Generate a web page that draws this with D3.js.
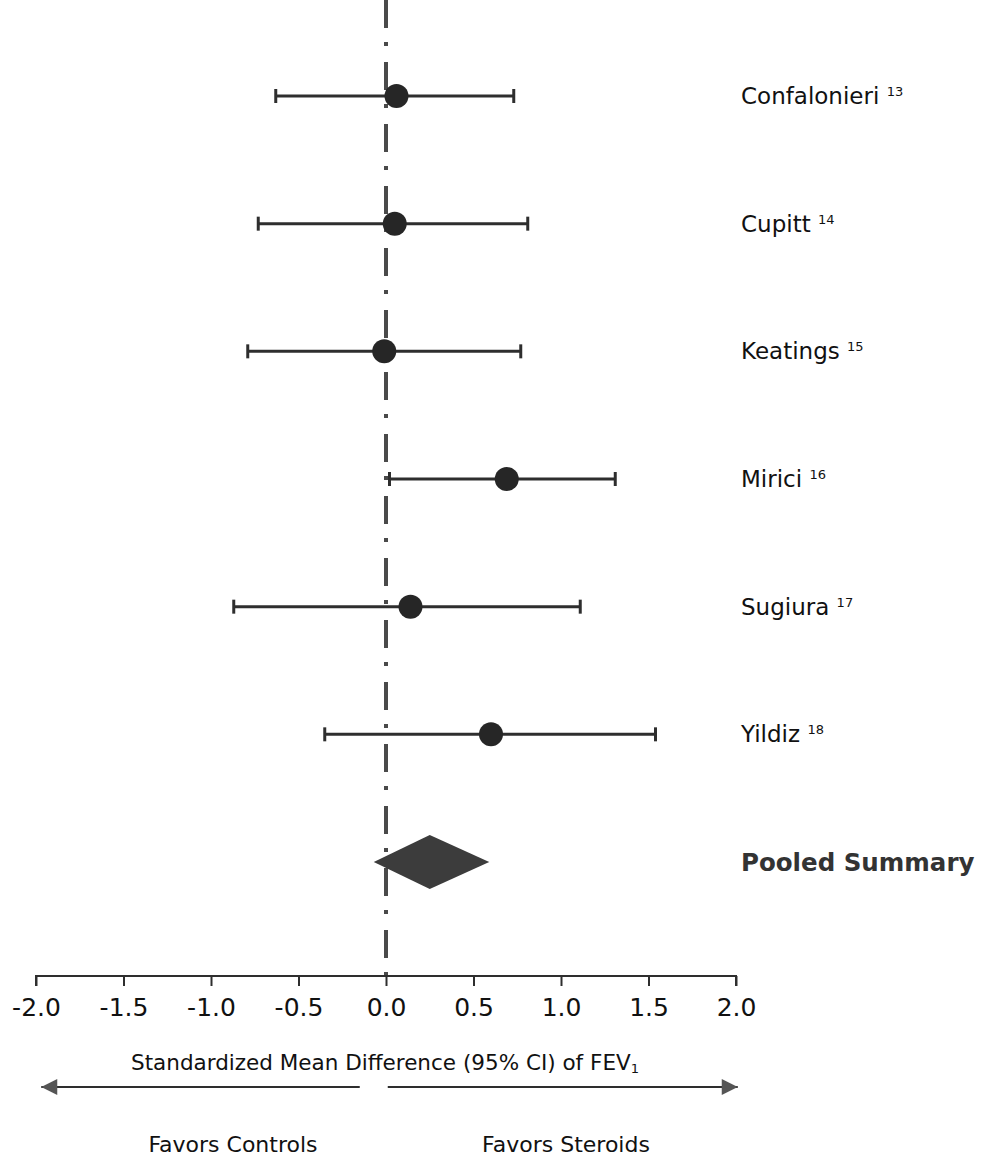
<!DOCTYPE html>
<html>
<head>
<meta charset="utf-8">
<script src="https://cdn.jsdelivr.net/npm/d3@7"></script>
<style>
  body { margin: 0; background: #fff; }
  svg { display: block; font-family: "DejaVu Sans", Verdana, sans-serif; }
</style>
</head>
<body>
<svg id="chart" width="987" height="1166"></svg>
<script>
// study data
const studies = ["Confalonieri", "Cupitt", "Keatings", "Mirici", "Sugiura", "Yildiz"];
const refs = ["13", "14", "15", "16", "17", "18"];
const smd = [0.06, 0.05, -0.01, 0.69, 0.14, 0.60];
const lower = [-0.63, -0.73, -0.79, 0.02, -0.87, -0.35];
const upper = [0.73, 0.81, 0.77, 1.31, 1.11, 1.54];

const pooledLabel = "Pooled Summary";
const pooled = { est: 0.25, lo: -0.07, hi: 0.59 };

const ticks = [-2.0, -1.5, -1.0, -0.5, 0.0, 0.5, 1.0, 1.5, 2.0];

const svg = d3.select("#chart");
const ink = "#2e2e2e";

const x = d3.scaleLinear().domain([-2, 2]).range([36, 736]);
const y = d3.scalePoint()
  .domain(studies.concat([pooledLabel]))
  .range([96, 862]);

const axisY = 976;

// dash-dot line at zero
svg.append("line")
  .attr("x1", x(0)).attr("x2", x(0))
  .attr("y1", 0).attr("y2", axisY)
  .attr("stroke", "#4a4a4a")
  .attr("stroke-width", 4)
  .attr("stroke-dasharray", "28,14,4,16");

const rows = studies.map((s, i) => ({ name: s, ref: refs[i], est: smd[i], lo: lower[i], hi: upper[i] }));

const g = svg.append("g");

// CI lines
g.selectAll("line.ci")
  .data(rows)
  .enter().append("line")
  .attr("class", "ci")
  .attr("x1", d => x(d.lo)).attr("x2", d => x(d.hi))
  .attr("y1", d => y(d.name)).attr("y2", d => y(d.name))
  .attr("stroke", ink).attr("stroke-width", 3);

// caps
["lo", "hi"].forEach(k => {
  g.selectAll("line.cap-" + k)
    .data(rows)
    .enter().append("line")
    .attr("x1", d => x(d[k])).attr("x2", d => x(d[k]))
    .attr("y1", d => y(d.name) - 7).attr("y2", d => y(d.name) + 7)
    .attr("stroke", ink).attr("stroke-width", 3);
});

// point estimates
g.selectAll("circle")
  .data(rows)
  .enter().append("circle")
  .attr("cx", d => x(d.est))
  .attr("cy", d => y(d.name))
  .attr("r", 12)
  .attr("fill", "#262626");

// labels
const lab = g.selectAll("text.study")
  .data(rows)
  .enter().append("text")
  .attr("class", "study")
  .attr("x", 741)
  .attr("y", d => y(d.name) + 8)
  .style("font-size", "23px")
  .attr("fill", "#111");
lab.append("tspan").text(d => d.name + " ");
lab.append("tspan")
  .attr("dy", -8)
  .style("font-size", "13px")
  .text(d => d.ref);

// pooled diamond
const py = y(pooledLabel);
g.append("path")
  .attr("d", `M${x(pooled.lo)},${py}L${x(pooled.est)},${py - 27}L${x(pooled.hi)},${py}L${x(pooled.est)},${py + 27}Z`)
  .attr("fill", "#3c3c3c");

g.append("text")
  .attr("x", 741)
  .attr("y", py + 9)
  .style("font-size", "24.5px")
  .style("font-weight", "bold")
  .attr("fill", "#333")
  .text(pooledLabel);

// x axis
const axis = svg.append("g")
  .attr("transform", `translate(0,${axisY})`)
  .call(d3.axisBottom(x).tickValues(ticks).tickFormat(d3.format(".1f")).tickSize(10).tickPadding(12));
axis.select(".domain").attr("stroke", ink).attr("stroke-width", 2).attr("d", `M${x(-2)},10V0H${x(2)}V10`);
axis.selectAll(".tick line").attr("stroke", ink).attr("stroke-width", 2);
axis.selectAll(".tick text")
  .style("font-size", "25px")
  .style("font-family", "'DejaVu Sans', Verdana, sans-serif")
  .attr("fill", "#111")
  .text(d => d3.format(".1f")(d).replace("−", "-"));

// axis title
const title = svg.append("text")
  .attr("x", 385).attr("y", 1070)
  .attr("text-anchor", "middle")
  .style("font-size", "21.5px")
  .attr("fill", "#111");
title.append("tspan").text("Standardized Mean Difference (95% CI) of FEV");
title.append("tspan").attr("dy", 3).style("font-size", "13px").text("1");

// direction arrows
const defs = svg.append("defs");
defs.append("marker")
  .attr("id", "head")
  .attr("viewBox", "0 -5 10 10")
  .attr("refX", 10).attr("refY", 0)
  .attr("markerWidth", 10).attr("markerHeight", 8)
  .attr("markerUnits", "strokeWidth")
  .attr("orient", "auto")
  .append("path")
  .attr("d", "M0,-5L10,0L0,5Z")
  .attr("fill", "#555");

const arrowY = 1087;
svg.append("line")
  .attr("x1", x(-0.15)).attr("x2", x(-1.97))
  .attr("y1", arrowY).attr("y2", arrowY)
  .attr("stroke", ink).attr("stroke-width", 2)
  .attr("marker-end", "url(#head)");
svg.append("line")
  .attr("x1", x(0.01)).attr("x2", x(2.01))
  .attr("y1", arrowY).attr("y2", arrowY)
  .attr("stroke", ink).attr("stroke-width", 2)
  .attr("marker-end", "url(#head)");

svg.append("text")
  .attr("x", 233).attr("y", 1152)
  .attr("text-anchor", "middle")
  .style("font-size", "22px")
  .attr("fill", "#111")
  .text("Favors Controls");
svg.append("text")
  .attr("x", 566).attr("y", 1152)
  .attr("text-anchor", "middle")
  .style("font-size", "22px")
  .attr("fill", "#111")
  .text("Favors Steroids");
</script>
</body>
</html>
